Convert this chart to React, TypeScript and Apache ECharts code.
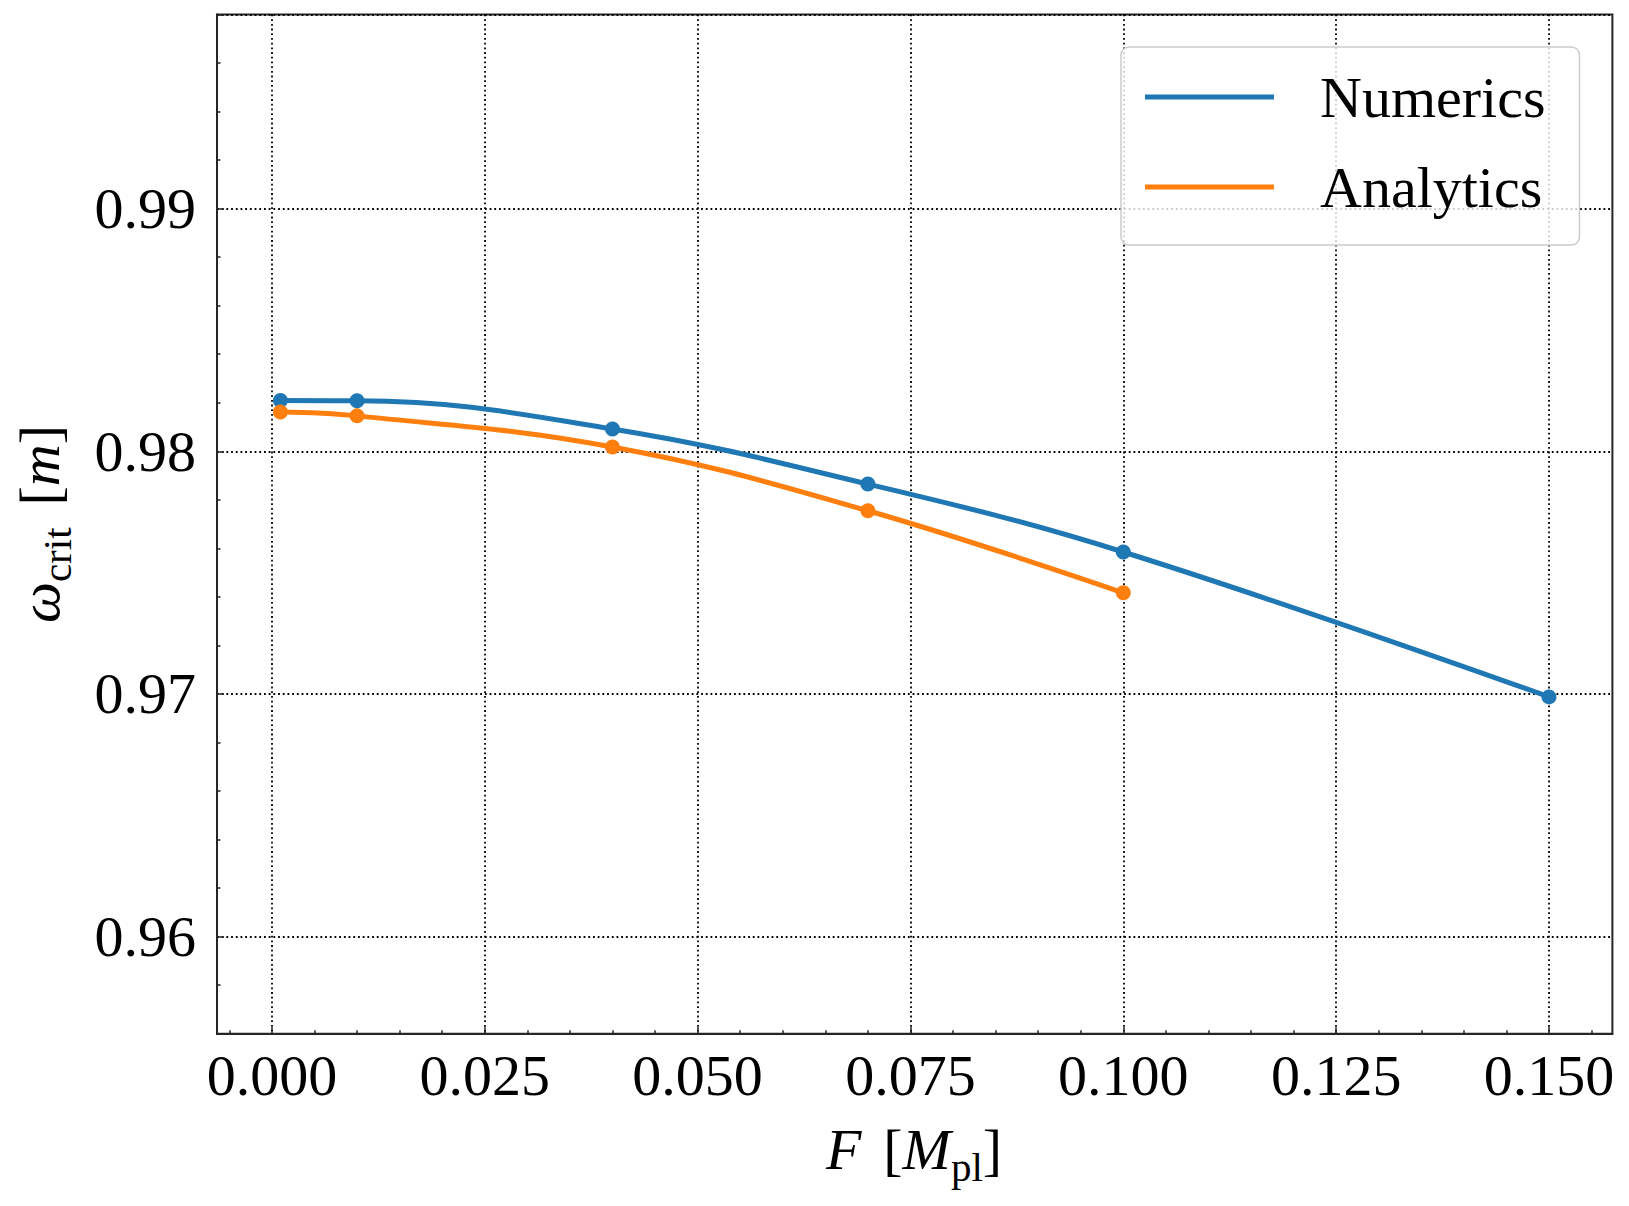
import React, { useEffect, useRef } from "react";
import * as echarts from "echarts";

const numericsF = [0.001, 0.01, 0.04, 0.07, 0.1, 0.15];
const numericsOmega = [0.98209, 0.98208, 0.98092, 0.97865, 0.97585, 0.96988];
const analyticsF = [0.001, 0.01, 0.04, 0.07, 0.1];
const analyticsOmega = [0.98162, 0.98146, 0.98018, 0.97755, 0.97417];
const xMajorTicks = [0, 0.025, 0.05, 0.075, 0.1, 0.125, 0.15];
const seriesNames = ["Numerics", "Analytics"];
const colors = ["#1f77b4", "#ff7f0e"];

const FONT = "Liberation Serif";

export default function App() {
  const ref = useRef<HTMLDivElement>(null);
  useEffect(() => {
    if (!ref.current) return;
    const chart = echarts.init(ref.current, null, { renderer: "svg" });
    const gridLeft = 217;
    const gridTop = 14.5;
    const gridRight = 16.6;
    const gridBottom = 172.3;
    const pairs = (xs: number[], ys: number[]) => xs.map((x, i) => [x, ys[i]]);
    const dotted = { color: "#000", width: 1.8, type: [1.8, 2.9] as any };
    const italicRich = {
      i: { fontFamily: FONT, fontStyle: "italic", fontSize: 58, lineHeight: 58, verticalAlign: "bottom", padding: [0, 0, 9, 0], fill: "#000" },
      n: { fontFamily: FONT, fontSize: 58, lineHeight: 58, verticalAlign: "bottom", padding: [0, 0, 9, 0], fill: "#000" },
      s: { fontFamily: FONT, fontSize: 41, lineHeight: 41, verticalAlign: "bottom", fill: "#000" },
      sp: { width: 22, height: 10, fontSize: 10 },
    };
    chart.setOption({
      animation: false,
      grid: {
        left: gridLeft,
        top: gridTop,
        right: gridRight,
        bottom: gridBottom,
        show: true,
        borderColor: "#262626",
        borderWidth: 2,
        backgroundColor: "transparent",
      },
      legend: {
        data: seriesNames,
        orient: "vertical",
        left: 1121,
        top: 47,
        icon: "rect",
        itemWidth: 129,
        itemHeight: 5,
        itemGap: 30,
        padding: [20, 34, 28, 24],
        backgroundColor: "rgba(255,255,255,0.8)",
        borderColor: "#cccccc",
        borderWidth: 1.5,
        borderRadius: 8,
        textStyle: {
          fontFamily: FONT,
          fontSize: 58,
          lineHeight: 60,
          color: "#000",
          padding: [0, 0, 0, 41],
        },
      },
      xAxis: {
        type: "value",
        min: -0.00645,
        max: 0.15745,
        splitNumber: 3,
        axisLine: { show: true, onZero: false, lineStyle: { color: "#262626", width: 2 } },
        axisTick: {
          show: true,
          inside: true,
          length: 7,
          customValues: xMajorTicks,
          lineStyle: { color: "#262626", width: 1.5 },
        },
        minorTick: {
          show: true,
          splitNumber: 10,
          length: 3.5,
          lineStyle: { color: "#262626", width: 1.5 },
        },
        axisLabel: {
          customValues: xMajorTicks,
          formatter: (v: number) => v.toFixed(3),
          fontFamily: FONT,
          fontSize: 58,
          lineHeight: 58,
          color: "#000",
          margin: 13,
        },
        splitLine: { show: true, lineStyle: dotted },
      },
      yAxis: {
        type: "value",
        min: 0.956,
        max: 0.998,
        splitNumber: 4,
        axisLine: { show: true, onZero: false, lineStyle: { color: "#262626", width: 2 } },
        axisTick: { show: true, inside: true, length: 7, lineStyle: { color: "#262626", width: 1.5 } },
        minorTick: { show: true, splitNumber: 5, length: 3.5, lineStyle: { color: "#262626", width: 1.5 } },
        axisLabel: {
          formatter: (v: number) => v.toFixed(2),
          showMinLabel: false,
          showMaxLabel: false,
          fontFamily: FONT,
          fontSize: 58,
          color: "#000",
          margin: 21,
        },
        splitLine: { show: true, lineStyle: dotted },
      },
      series: [
        {
          name: seriesNames[0],
          type: "line",
          data: pairs(numericsF, numericsOmega),
          smooth: 0.4,
          symbol: "circle",
          symbolSize: 15,
          color: colors[0],
          lineStyle: { width: 5, color: colors[0] },
          itemStyle: { color: colors[0] },
          z: 3,
        },
        {
          name: seriesNames[1],
          type: "line",
          data: pairs(analyticsF, analyticsOmega),
          smooth: 0.4,
          symbol: "circle",
          symbolSize: 15,
          color: colors[1],
          lineStyle: { width: 5, color: colors[1] },
          itemStyle: { color: colors[1] },
          z: 4,
        },
      ],
      graphic: [
        {
          type: "text",
          x: 914,
          y: 1158,
          style: {
            text: "{i|F}{sp| }{n|[}{i|M}{s|pl}{n|]}",
            rich: italicRich,
            align: "center",
            verticalAlign: "middle",
          },
        },
        {
          type: "text",
          x: 48,
          y: 524,
          rotation: Math.PI / 2,
          style: {
            text: "{i|ω}{s|crit}{sp| }{n|[}{i|m}{n|]}",
            rich: italicRich,
            align: "center",
            verticalAlign: "middle",
          },
        },
      ],
    });
    return () => chart.dispose();
  }, []);
  return (
    <div
      ref={ref}
      style={{ position: "absolute", left: 0, top: 0, width: 1629, height: 1206 }}
    />
  );
}
